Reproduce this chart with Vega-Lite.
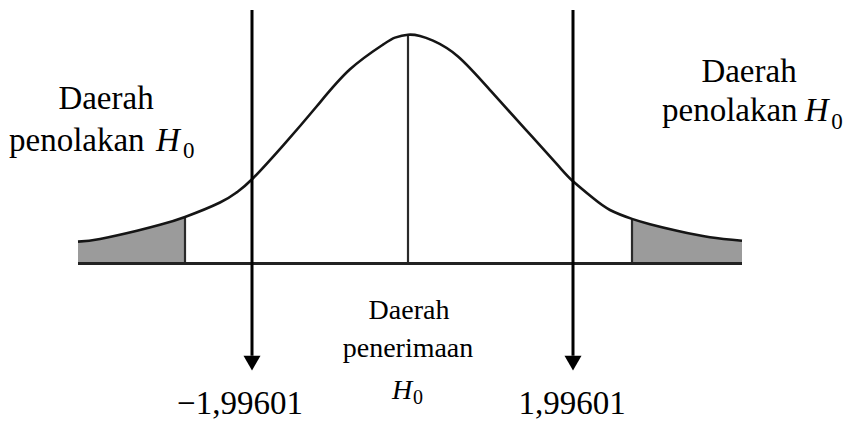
{
  "$schema": "https://vega.github.io/schema/vega-lite/v6.json",
  "width": 843,
  "height": 421,
  "autosize": {"type": "fit", "contains": "padding"},
  "padding": 0,
  "background": "white",
  "config": {"view": {"stroke": null}},
  "datasets": {
    "curve": [
      {"z": -4.125, "d": 0.0383},
      {"z": -3.85, "d": 0.0430},
      {"z": -3.3875, "d": 0.0574},
      {"z": -3.1, "d": 0.0678},
      {"z": -2.7875, "d": 0.0817},
      {"z": -2.35, "d": 0.1070},
      {"z": -2.1375, "d": 0.1252},
      {"z": -1.95, "d": 0.1478},
      {"z": -1.5625, "d": 0.2070},
      {"z": -1.1375, "d": 0.2765},
      {"z": -0.725, "d": 0.3409},
      {"z": -0.3125, "d": 0.3843},
      {"z": -0.1625, "d": 0.3965},
      {"z": 0, "d": 0.4017},
      {"z": 0.15, "d": 0.3995},
      {"z": 0.3125, "d": 0.3913},
      {"z": 0.625, "d": 0.3635},
      {"z": 1.0375, "d": 0.3026},
      {"z": 1.4625, "d": 0.2365},
      {"z": 1.875, "d": 0.1722},
      {"z": 2.0625, "d": 0.1443},
      {"z": 2.3125, "d": 0.1148},
      {"z": 2.525, "d": 0.0939},
      {"z": 2.8, "d": 0.0783},
      {"z": 3.025, "d": 0.0690},
      {"z": 3.3625, "d": 0.0574},
      {"z": 3.775, "d": 0.0460},
      {"z": 4.175, "d": 0.0400}
    ],
    "arrows": [
      {"z": -1.95, "top": 0.4452, "bottom": -0.162, "tip": -0.175},
      {"z": 2.0625, "top": 0.4452, "bottom": -0.162, "tip": -0.175}
    ]
  },
  "encoding": {
    "x": {"field": "z", "type": "quantitative", "scale": {"domain": [-5.1, 5.4375], "nice": false, "zero": false}, "axis": null},
    "y": {"field": "d", "type": "quantitative", "scale": {"domain": [-0.2696, 0.4626], "nice": false, "zero": false}, "axis": null}
  },
  "layer": [
    {
      "data": {"name": "curve"},
      "transform": [{"filter": "datum.z <= -2.78"}],
      "mark": {"type": "area", "interpolate": "natural", "color": "#9b9b9b"},
      "encoding": {"y2": {"datum": 0}}
    },
    {
      "data": {"name": "curve"},
      "transform": [{"filter": "datum.z >= 2.79"}],
      "mark": {"type": "area", "interpolate": "natural", "color": "#9b9b9b"},
      "encoding": {"y2": {"datum": 0}}
    },
    {
      "data": {"values": [
        {"z": -2.7875, "d": 0.0817},
        {"z": 2.8, "d": 0.0783},
        {"z": 0, "d": 0.4017}
      ]},
      "mark": {"type": "rule", "color": "#2a2a2a", "strokeWidth": 2.2},
      "encoding": {"y2": {"datum": 0}}
    },
    {
      "data": {"name": "curve"},
      "mark": {"type": "line", "interpolate": "natural", "color": "#151515", "strokeWidth": 2.6},
      "encoding": {}
    },
    {
      "data": {"values": [{"z": -4.125, "z2": 4.175, "d": 0}]},
      "mark": {"type": "rule", "color": "#222222", "strokeWidth": 3},
      "encoding": {"x2": {"field": "z2"}}
    },
    {
      "data": {"name": "arrows"},
      "mark": {"type": "rule", "color": "#000000", "strokeWidth": 3},
      "encoding": {
        "y": {"field": "top", "type": "quantitative"},
        "y2": {"field": "bottom"}
      }
    },
    {
      "data": {"name": "arrows"},
      "mark": {"type": "point", "shape": "triangle-down", "filled": true, "color": "#000000", "size": 289, "opacity": 1},
      "encoding": {"y": {"field": "tip", "type": "quantitative"}}
    },
    {
      "data": {"values": [
        {"z": -3.775, "d": 0.2713, "t": "Daerah"},
        {"z": 4.2625, "d": 0.3183, "t": "Daerah"},
        {"z": -2.1, "d": -0.2643, "t": "−1,99601"},
        {"z": 2.05, "d": -0.2643, "t": "1,99601"}
      ]},
      "mark": {"type": "text", "align": "center", "baseline": "alphabetic", "font": "Liberation Serif", "fontSize": 33, "color": "#000000"},
      "encoding": {"text": {"field": "t"}}
    },
    {
      "data": {"values": [
        {"z": -4.9875, "d": 0.1983, "t": "penolakan"},
        {"z": 3.175, "d": 0.2504, "t": "penolakan"}
      ]},
      "mark": {"type": "text", "align": "left", "baseline": "alphabetic", "font": "Liberation Serif", "fontSize": 33, "color": "#000000"},
      "encoding": {"text": {"field": "t"}}
    },
    {
      "data": {"values": [
        {"z": -3.15, "d": 0.1983, "t": "H"},
        {"z": 4.96, "d": 0.2504, "t": "H"}
      ]},
      "mark": {"type": "text", "align": "left", "baseline": "alphabetic", "font": "Liberation Serif", "fontStyle": "italic", "fontSize": 33, "color": "#000000"},
      "encoding": {"text": {"field": "t"}}
    },
    {
      "data": {"values": [
        {"z": -2.8125, "d": 0.1843, "t": "0"},
        {"z": 5.29, "d": 0.2365, "t": "0"}
      ]},
      "mark": {"type": "text", "align": "left", "baseline": "alphabetic", "font": "Liberation Serif", "fontSize": 23, "color": "#000000"},
      "encoding": {"text": {"field": "t"}}
    },
    {
      "data": {"values": [
        {"z": 0.0125, "d": -0.0974, "t": "Daerah"},
        {"z": 0, "d": -0.1635, "t": "penerimaan"}
      ]},
      "mark": {"type": "text", "align": "center", "baseline": "alphabetic", "font": "Liberation Serif", "fontSize": 28, "color": "#000000"},
      "encoding": {"text": {"field": "t"}}
    },
    {
      "data": {"values": [{"z": -0.2, "d": -0.2383, "t": "H"}]},
      "mark": {"type": "text", "align": "left", "baseline": "alphabetic", "font": "Liberation Serif", "fontStyle": "italic", "fontSize": 28, "color": "#000000"},
      "encoding": {"text": {"field": "t"}}
    },
    {
      "data": {"values": [{"z": 0.0625, "d": -0.247, "t": "0"}]},
      "mark": {"type": "text", "align": "left", "baseline": "alphabetic", "font": "Liberation Serif", "fontSize": 20, "color": "#000000"},
      "encoding": {"text": {"field": "t"}}
    }
  ]
}
